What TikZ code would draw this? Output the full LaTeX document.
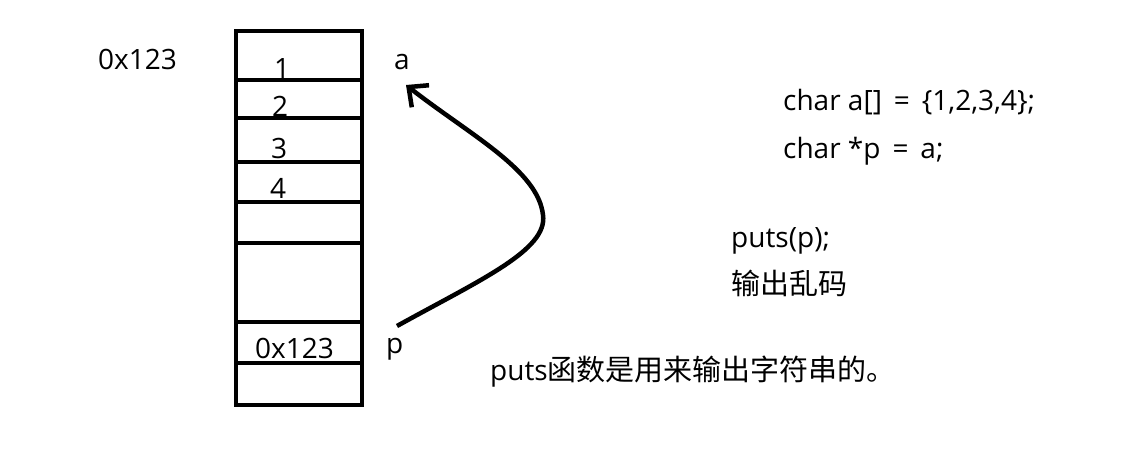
\documentclass[tikz,border=0pt]{standalone}
\usepackage{fontspec}
\setmainfont{Open Sans}
\newfontfamily\cjk{Noto Sans CJK SC}
\usetikzlibrary{arrows.meta}

\begin{document}
\begin{tikzpicture}[x=1pt,y=-1pt,
  txt/.style={anchor=base west,inner sep=0pt,font=\fontsize{28}{32}\selectfont},
  han/.style={font=\cjk\fontsize{29}{32}\selectfont},
  wall/.style={line width=4pt}]
\useasboundingbox (0,0) rectangle (1121,460);
% memory column
\draw[wall] (236,31) rectangle (362,405);
\foreach \y in {80,118,162,202,243,322,363}
  \draw[wall] (236,\y) -- (362,\y);
\node[txt] (addr) at (98,70) {0x123};
\node[txt] (v1) at (274,78) {1};
\node[txt] (v2) at (272,116) {2};
\node[txt] (v3) at (271,158) {3};
\node[txt] (v4) at (270,198) {4};
\node[txt] (pval) at (255,358) {0x123};
\node[txt] (a) at (394,70) {a};
\node[txt] (p) at (386,353) {p};
% code
\node[txt] (decla) at (783,110) {char a[] \,= \,\{1,2,3,4\};};
\node[txt] (declp) at (783,158) {char *p \,= \,a;};
\node[txt] (call) at (731,247) {puts(p);};
\node[txt,han] (res) at (731,294) {输出乱码};
\node[txt] (note) at (490,380) {puts{\cjk\fontsize{29}{32}\selectfont 函数是用来输出字符串的。}};
% pointer arrow
\coordinate (from) at (397,326);
\coordinate (to) at (406,85);
\draw[line width=4.5pt,-{Straight Barb[length=15pt,width=28pt]}] (from)
  .. controls (480,280) and (548,250) .. (543,215)
  .. controls (538,170) and (470,135) .. (to);
\end{tikzpicture}
\end{document}
